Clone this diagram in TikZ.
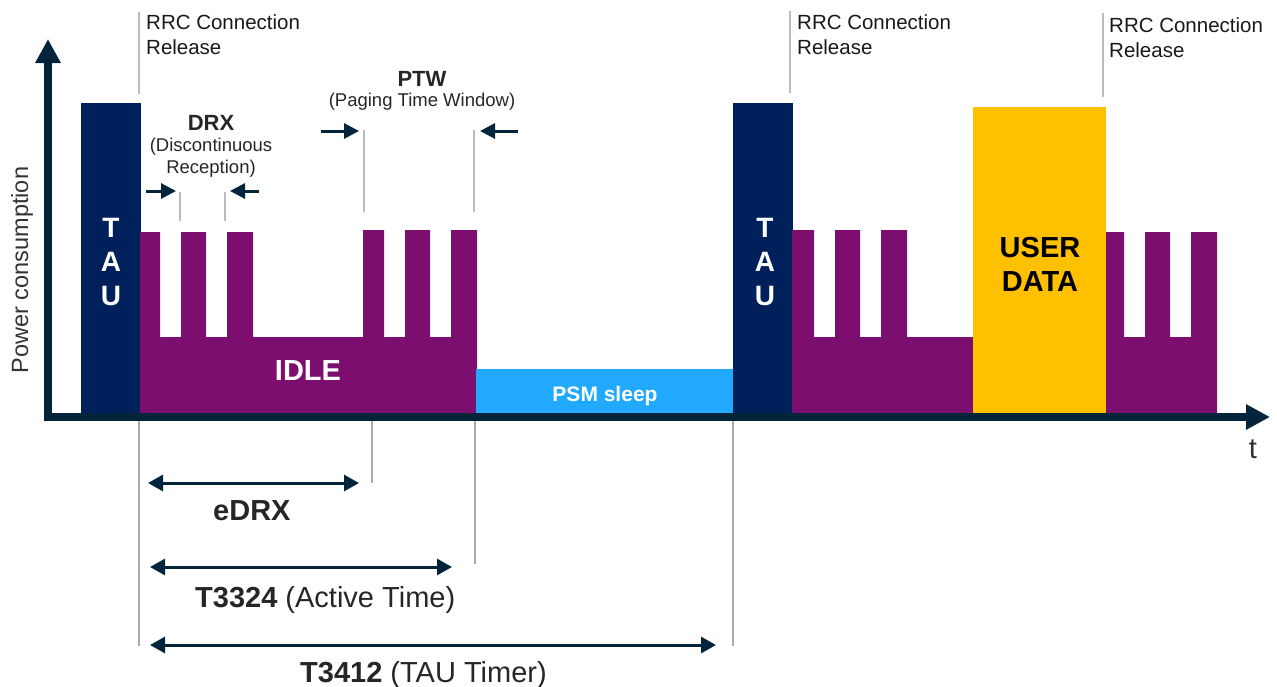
\documentclass[tikz,border=0pt]{standalone}
\usepackage{fontspec}
\setmainfont{Liberation Sans}
\usetikzlibrary{arrows.meta}
\definecolor{axisc}{HTML}{03243B}
\definecolor{taublue}{HTML}{00205C}
\definecolor{idlep}{HTML}{7C0E70}
\definecolor{psmb}{HTML}{20A9FE}
\definecolor{userY}{HTML}{FFC000}
\definecolor{guidec}{HTML}{B7BBC3}
\definecolor{guidec2}{HTML}{ABABAB}
\definecolor{txtc}{HTML}{262626}
\newcommand{\setfs}[2]{\fontsize{#1}{#2}\selectfont}
\begin{document}
\begin{tikzpicture}[x=1pt,y=-1pt,
  guideline/.style={draw=guidec, line width=2.2pt},
  guideline2/.style={draw=guidec2, line width=2pt},
  dimarrow/.style={draw=axisc, line width=3pt, {Triangle[length=15pt,width=16pt]}-{Triangle[length=15pt,width=16pt]}},
  ptr/.style={draw=axisc, line width=3pt, -{Triangle[length=15pt,width=15pt]}},
  axisline/.style={draw=axisc, line width=8pt, -{Triangle[length=24pt,width=24pt]}},
  lbl/.style={inner sep=0pt, text=txtc},
  rrc/.style={inner sep=0pt, text=black!90, anchor=base west, font=\setfs{20.5}{25}},
  wlbl/.style={inner sep=0pt, text=white, font=\bfseries},
]
\useasboundingbox (0,0) rectangle (1277,686);

% --- bars ---
\fill[taublue] (81,103) rectangle (141,413);
\fill[idlep] (140,413) -- (140,232) -- (160,232) -- (160,337) -- (181,337) -- (181,232) -- (206,232) -- (206,337)
  -- (227,337) -- (227,232) -- (253,232) -- (253,337) -- (363,337) -- (363,230) -- (384,230) -- (384,337)
  -- (405,337) -- (405,230) -- (430,230) -- (430,337) -- (451,337) -- (451,230) -- (477,230) -- (477,413) -- cycle;
\fill[psmb] (476,369) rectangle (734,413);
\fill[taublue] (733,103) rectangle (793,413);
\fill[idlep] (792,413) -- (792,230) -- (814,230) -- (814,337) -- (835,337) -- (835,230) -- (860,230) -- (860,337)
  -- (881,337) -- (881,230) -- (907,230) -- (907,337) -- (974,337) -- (974,413) -- cycle;
\fill[userY] (973,107) rectangle (1106,413);
\fill[idlep] (1106,413) -- (1106,232) -- (1124,232) -- (1124,337) -- (1145,337) -- (1145,232) -- (1170,232) -- (1170,337)
  -- (1191,337) -- (1191,232) -- (1217,232) -- (1217,413) -- cycle;

% --- bar labels ---
\node[wlbl, align=center, font=\bfseries\setfs{28}{34}] (tau1) at (111,262) {T\\A\\U};
\node[wlbl, align=center, font=\bfseries\setfs{28}{34}] (tau2) at (765,262) {T\\A\\U};
\node[wlbl, anchor=base, font=\bfseries\setfs{29}{34}] (idle) at (308,380) {IDLE};
\node[wlbl, anchor=base, font=\bfseries\setfs{21}{25}] (psm) at (605,401) {PSM sleep};
\node[inner sep=0pt, text=black, align=center, font=\bfseries\setfs{29}{34}] (user) at (1040,264) {USER\\DATA};

% --- guide lines ---
\coordinate (g1a) at (139,12);  \coordinate (g1b) at (139,94);
\coordinate (g2a) at (790,11);  \coordinate (g2b) at (790,93);
\coordinate (g3a) at (1103,13); \coordinate (g3b) at (1103,97);
\draw[guideline] (g1a) -- (g1b);
\draw[guideline] (g2a) -- (g2b);
\draw[guideline] (g3a) -- (g3b);
\coordinate (d1a) at (180,192); \coordinate (d1b) at (180,221);
\coordinate (d2a) at (225,192); \coordinate (d2b) at (225,221);
\coordinate (p1a) at (364,130); \coordinate (p1b) at (364,212);
\coordinate (p2a) at (474,130); \coordinate (p2b) at (474,212);
\draw[guideline] (d1a) -- (d1b);
\draw[guideline] (d2a) -- (d2b);
\draw[guideline] (p1a) -- (p1b);
\draw[guideline] (p2a) -- (p2b);
\coordinate (b1a) at (139,418); \coordinate (b1b) at (139,646);
\coordinate (b2a) at (372,418); \coordinate (b2b) at (372,483);
\coordinate (b3a) at (475,418); \coordinate (b3b) at (475,564);
\coordinate (b4a) at (733,418); \coordinate (b4b) at (733,646);
\draw[guideline2] (b1a) -- (b1b);
\draw[guideline2] (b2a) -- (b2b);
\draw[guideline2] (b3a) -- (b3b);
\draw[guideline2] (b4a) -- (b4b);

% --- axes ---
\coordinate (xo) at (44,417); \coordinate (xe) at (1270,417);
\coordinate (yo) at (48,421); \coordinate (ye) at (48,39);
\draw[axisline] (xo) -- (xe);
\draw[axisline] (yo) -- (ye);
\node[lbl, text=black!80, rotate=90, font=\setfs{23.5}{28}] (ylab) at (22,270) {Power consumption};
\node[lbl, text=black!80, anchor=base, font=\setfs{29}{34}] (xlab) at (1253,458) {t};

% --- RRC labels ---
\node[rrc] (rrc1a) at (146,29.5) {RRC Connection};
\node[rrc] (rrc1b) at (146,54.5) {Release};
\node[rrc] (rrc2a) at (797,29.5) {RRC Connection};
\node[rrc] (rrc2b) at (797,54.5) {Release};
\node[rrc] (rrc3a) at (1109,32.5) {RRC Connection};
\node[rrc] (rrc3b) at (1109,57.5) {Release};

% --- DRX / PTW ---
\node[lbl, anchor=base, font=\bfseries\setfs{22}{26}] (drx) at (211,130) {DRX};
\node[lbl, anchor=base, font=\setfs{18.5}{22}] (drx2) at (211,151) {(Discontinuous};
\node[lbl, anchor=base, font=\setfs{18.5}{22}] (drx3) at (211,173) {Reception)};
\node[lbl, anchor=base, font=\bfseries\setfs{22}{26}] (ptw) at (422,86) {PTW};
\node[lbl, anchor=base, font=\setfs{18.5}{22}] (ptw2) at (422,106) {(Paging Time Window)};
\coordinate (da1) at (146,191); \coordinate (da2) at (176,191);
\coordinate (da3) at (259,191); \coordinate (da4) at (230,191);
\coordinate (pa1) at (321,131); \coordinate (pa2) at (359,131);
\coordinate (pa3) at (518,131); \coordinate (pa4) at (480,131);
\draw[ptr] (da1) -- (da2);
\draw[ptr] (da3) -- (da4);
\draw[ptr] (pa1) -- (pa2);
\draw[ptr] (pa3) -- (pa4);

% --- timers ---
\coordinate (e1) at (148,483); \coordinate (e2) at (359,483);
\coordinate (a1) at (150,567); \coordinate (a2) at (452,567);
\coordinate (t1) at (150,645); \coordinate (t2) at (716,645);
\draw[dimarrow] (e1) -- (e2);
\draw[dimarrow] (a1) -- (a2);
\draw[dimarrow] (t1) -- (t2);
\node[lbl, anchor=base west, font=\bfseries\setfs{29}{34}] (edrx) at (213,520) {eDRX};
\node[lbl, anchor=base west, font=\setfs{29}{34}] (t3324) at (195,607) {\textbf{T3324} (Active Time)};
\node[lbl, anchor=base west, font=\setfs{29}{34}] (t3412) at (300,682) {\textbf{T3412} (TAU Timer)};
\end{tikzpicture}
\end{document}
